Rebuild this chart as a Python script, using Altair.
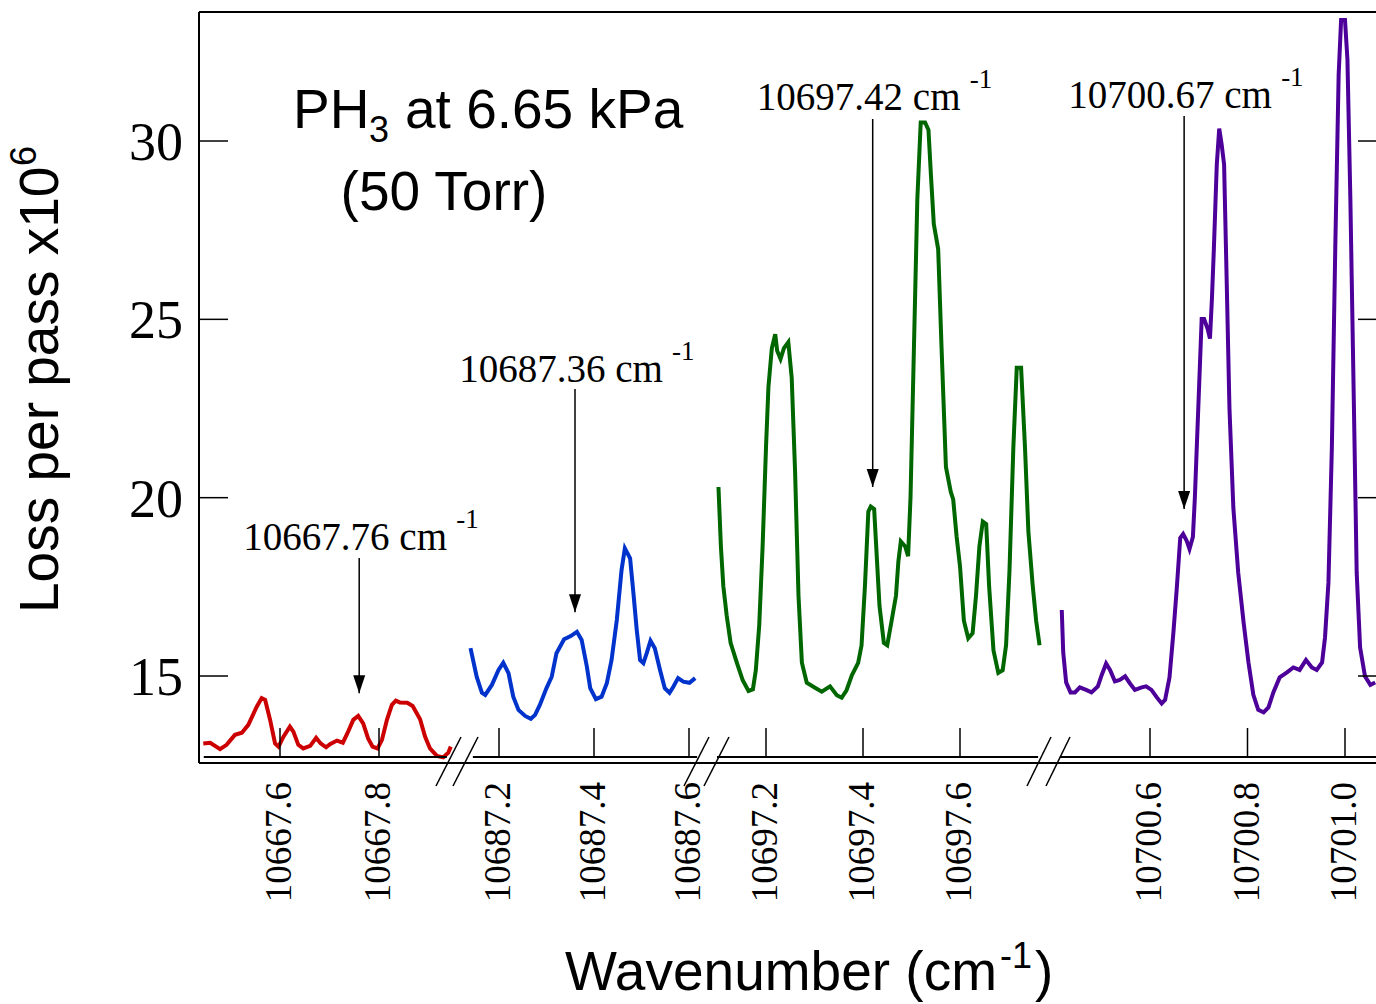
import altair as alt
import pandas as pd

# ---------------- data ----------------
red_wn = [10667.445, 10667.459, 10667.479, 10667.492, 10667.509, 10667.523, 10667.536, 10667.553,
          10667.563, 10667.570, 10667.580, 10667.590, 10667.597, 10667.607, 10667.620, 10667.627,
          10667.637, 10667.647, 10667.661, 10667.673, 10667.682, 10667.693, 10667.701, 10667.715,
          10667.727, 10667.736, 10667.748, 10667.758, 10667.768, 10667.778, 10667.787, 10667.797,
          10667.806, 10667.816, 10667.826, 10667.834, 10667.842, 10667.857, 10667.868, 10667.883,
          10667.893, 10667.903, 10667.917, 10667.930, 10667.940, 10667.945]
red_loss = [13.11, 13.13, 12.95, 13.07, 13.35, 13.41, 13.63, 14.14, 14.38, 14.33, 13.77, 13.11,
            13.02, 13.30, 13.58, 13.44, 13.07, 12.97, 13.04, 13.27, 13.11, 13.00, 13.09, 13.19,
            13.13, 13.39, 13.77, 13.88, 13.67, 13.25, 13.02, 12.97, 13.21, 13.77, 14.19, 14.31,
            14.26, 14.25, 14.16, 13.79, 13.30, 12.97, 12.76, 12.72, 12.85, 13.02]

blue_wn = [10687.140, 10687.153, 10687.164, 10687.171, 10687.185, 10687.199, 10687.209, 10687.220,
           10687.230, 10687.241, 10687.255, 10687.267, 10687.276, 10687.286, 10687.300, 10687.311,
           10687.321, 10687.337, 10687.351, 10687.364, 10687.374, 10687.385, 10687.392, 10687.404,
           10687.416, 10687.427, 10687.437, 10687.448, 10687.458, 10687.465, 10687.476, 10687.483,
           10687.490, 10687.497, 10687.504, 10687.511, 10687.519, 10687.528, 10687.539, 10687.549,
           10687.559, 10687.567, 10687.577, 10687.588, 10687.601, 10687.613]
blue_loss = [15.78, 14.98, 14.53, 14.47, 14.75, 15.17, 15.37, 15.08, 14.42, 14.05, 13.88, 13.80,
             13.91, 14.19, 14.66, 14.98, 15.64, 16.03, 16.12, 16.24, 16.01, 15.26, 14.66, 14.35,
             14.42, 14.80, 15.45, 16.57, 17.97, 18.58, 18.30, 17.32, 16.29, 15.45, 15.36, 15.64,
             15.99, 15.78, 15.17, 14.66, 14.53, 14.70, 14.94, 14.84, 14.81, 14.94]

green_wn = [10697.102, 10697.107, 10697.112, 10697.119, 10697.127, 10697.140, 10697.152, 10697.164,
            10697.173, 10697.179, 10697.186, 10697.193, 10697.200, 10697.205, 10697.212, 10697.219,
            10697.223, 10697.230, 10697.237, 10697.246, 10697.253, 10697.260, 10697.267, 10697.274,
            10697.284, 10697.301, 10697.315, 10697.332, 10697.346, 10697.356, 10697.366, 10697.377,
            10697.390, 10697.397, 10697.404, 10697.411, 10697.416, 10697.423, 10697.434, 10697.443,
            10697.450, 10697.459, 10697.468, 10697.473, 10697.478, 10697.487, 10697.493, 10697.498,
            10697.505, 10697.512, 10697.519, 10697.528, 10697.535, 10697.540, 10697.546, 10697.555,
            10697.562, 10697.571, 10697.581, 10697.586, 10697.593, 10697.600, 10697.608, 10697.617,
            10697.626, 10697.633, 10697.640, 10697.647, 10697.654, 10697.660, 10697.669, 10697.679,
            10697.688, 10697.695, 10697.702, 10697.710, 10697.717, 10697.726, 10697.734, 10697.741,
            10697.750, 10697.757, 10697.764]
green_loss = [20.30, 18.63, 17.52, 16.69, 15.93, 15.37, 14.88, 14.58, 14.63, 15.16,
              16.41, 18.63, 21.41, 23.10, 24.19, 24.58, 24.12, 23.89, 24.19, 24.36,
              23.36, 20.72, 17.25, 15.37, 14.81, 14.67, 14.56, 14.71, 14.46, 14.39,
              14.60, 15.02, 15.37, 15.86, 17.52, 19.61, 19.75, 19.68, 16.97, 15.93,
              15.86, 16.55, 17.25, 18.22, 18.77, 18.63, 18.36, 20.02, 24.19, 28.36,
              30.52, 30.52, 30.31, 29.06, 27.67, 26.97, 24.19, 20.86, 20.16, 19.95,
              18.91, 18.08, 16.55, 16.06, 16.20, 17.25, 18.63, 19.33, 19.26, 17.52,
              15.72, 15.09, 15.16, 15.86, 17.94, 21.41, 23.64, 23.64, 21.41, 19.05,
              17.52, 16.55, 15.86]

purple_wn = [10700.419, 10700.422, 10700.428, 10700.437, 10700.446, 10700.456, 10700.469, 10700.480,
             10700.493, 10700.501, 10700.510, 10700.518, 10700.528, 10700.538, 10700.549, 10700.559,
             10700.569, 10700.583, 10700.592, 10700.603, 10700.614, 10700.624, 10700.631, 10700.640,
             10700.648, 10700.655, 10700.662, 10700.668, 10700.675, 10700.681, 10700.688, 10700.692,
             10700.699, 10700.706, 10700.711, 10700.718, 10700.723, 10700.727, 10700.731, 10700.737,
             10700.742, 10700.747, 10700.752, 10700.757, 10700.763, 10700.771, 10700.781, 10700.792,
             10700.802, 10700.812, 10700.822, 10700.833, 10700.843, 10700.853, 10700.866, 10700.881,
             10700.894, 10700.907, 10700.920, 10700.932, 10700.942, 10700.953, 10700.959, 10700.966,
             10700.973, 10700.980, 10700.987, 10700.992, 10701.000, 10701.005, 10701.011, 10701.018,
             10701.024, 10701.031, 10701.041, 10701.052, 10701.062]
purple_loss = [16.85, 15.66, 14.82, 14.54, 14.54, 14.68, 14.61, 14.54, 14.71, 15.03,
               15.35, 15.17, 14.85, 14.89, 14.99, 14.79, 14.61, 14.68, 14.71, 14.61,
               14.40, 14.23, 14.33, 14.96, 16.22, 17.47, 18.87, 18.98, 18.80, 18.56,
               18.90, 19.99, 22.50, 25.01, 25.01, 24.74, 24.46, 25.57, 26.97, 29.34,
               30.35, 29.90, 29.34, 26.27, 22.50, 19.71, 17.89, 16.50, 15.38, 14.47,
               14.05, 13.98, 14.12, 14.54, 14.96, 15.10, 15.24, 15.17, 15.45, 15.24,
               15.17, 15.38, 16.08, 17.61, 21.38, 26.97, 31.86, 33.39, 33.39, 32.28,
               28.37, 22.78, 17.89, 15.80, 14.99, 14.75, 14.82]

seg_names = ["s1", "s2", "s3", "s4"]
seg_ticks = [[10667.6, 10667.8], [10687.2, 10687.4, 10687.6],
             [10697.2, 10697.4, 10697.6], [10700.6, 10700.8, 10701.0]]
seg_lo = [10667.446, 10687.145, 10697.099, 10700.415]
seg_hi = [10667.937, 10687.617, 10697.761, 10701.064]

ann_wn = [10667.76, 10687.36, 10697.42, 10700.67]
ann_seg = [0, 1, 2, 3]
ann_text = ["10667.76 cm", "10687.36 cm", "10697.42 cm", "10700.67 cm"]
ann_label_y = [18.53, 23.24, 30.87, 30.92]
ann_top = [18.31, 23.05, 30.62, 30.70]
ann_tip = [14.52, 16.79, 20.30, 19.68]

y_ticks = [15, 20, 25, 30]

# ---------------- broken-axis layout ----------------
W, H = 1177, 751
Y_DOMAIN = [12.561, 33.617]
SEG_ANCHOR = [10667.6, 10687.2, 10697.2, 10700.6]   # wavenumber anchoring each panel
SEG_PX = [81.0, 300.0, 567.0, 951.0]                # where that anchor sits on the broken axis
SEG_SCALE = [495.0, 475.0, 485.0, 487.5]            # px per cm-1 in each panel
SEG_COLOR = ["#CC0000", "#0033CC", "#006600", "#4D0099"]


def broken_x(wn, seg):
    return round(SEG_PX[seg] + (wn - SEG_ANCHOR[seg]) * SEG_SCALE[seg], 3)


rows = []
for k, (wns, vals) in enumerate([(red_wn, red_loss), (blue_wn, blue_loss),
                                  (green_wn, green_loss), (purple_wn, purple_loss)]):
    for w, v in zip(wns, vals):
        rows.append({"seg": seg_names[k], "wn": w, "v": v, "xp": broken_x(w, k)})
lines_df = pd.DataFrame(rows)

tick_xp, tick_lab = [], []
for k, ts in enumerate(seg_ticks):
    for t in ts:
        tick_xp.append(broken_x(t, k))
        tick_lab.append(f"{t:.1f}")
ticks_df = pd.DataFrame({"xp": tick_xp, "lab": tick_lab})

segs_df = pd.DataFrame({"x1": [broken_x(a, k) for k, a in enumerate(seg_lo)],
                        "x2": [broken_x(b, k) for k, b in enumerate(seg_hi)]})

ann_df = pd.DataFrame({"xp": [broken_x(w, s) for w, s in zip(ann_wn, ann_seg)],
                       "text": ann_text, "ly": ann_label_y, "top": ann_top, "tip": ann_tip})
yt_df = pd.DataFrame({"v": y_ticks, "lab": [str(t) for t in y_ticks]})

XS = alt.Scale(domain=[0, W], nice=False, zero=False)
YS = alt.Scale(domain=Y_DOMAIN, nice=False, zero=False)


def X(field):
    return alt.X(field, scale=XS, axis=None)


def Y(field):
    return alt.Y(field, scale=YS, axis=None)


lines = alt.Chart(lines_df).mark_line(strokeWidth=4, clip=True).encode(
    x=X("xp:Q"), y=Y("v:Q"),
    color=alt.Color("seg:N", scale=alt.Scale(domain=seg_names, range=SEG_COLOR), legend=None),
)

one = pd.DataFrame({"a": [0]})


def rule(x, x2, y, y2, w=2):
    return alt.Chart(one).mark_rule(color="black", strokeWidth=w).encode(
        x=alt.value(x), x2=alt.value(x2), y=alt.value(y), y2=alt.value(y2))


# frame (left, top, bottom)
frame = [rule(0, 0, 0, H), rule(0, W, 0, 0), rule(0, W, H, H)]

seg_lines = alt.Chart(segs_df).mark_rule(color="black", strokeWidth=2).encode(
    x=X("x1:Q"), x2="x2:Q", y=alt.value(745))

x_ticks = alt.Chart(ticks_df).mark_rule(color="black", strokeWidth=1.5).encode(
    x=X("xp:Q"), y=alt.value(716), y2=alt.value(745))
x_labels = alt.Chart(ticks_df).mark_text(angle=270, align="right", baseline="middle",
                                         font="Liberation Serif", fontSize=37, color="black").encode(
    x=X("xp:Q"), y=alt.value(H + 19), text="lab:N")

y_ticks_left = alt.Chart(yt_df).mark_rule(color="black", strokeWidth=1.5).encode(
    y=Y("v:Q"), x=alt.value(0), x2=alt.value(29))
y_ticks_right = alt.Chart(yt_df).mark_rule(color="black", strokeWidth=1.5).encode(
    y=Y("v:Q"), x=alt.value(W - 18), x2=alt.value(W))
y_labels = alt.Chart(yt_df).mark_text(align="right", baseline="middle", dy=3,
                                      font="Liberation Serif", fontSize=54, color="black").encode(
    y=Y("v:Q"), x=alt.value(-16), text="lab:N")

arrows = alt.Chart(ann_df).mark_rule(color="black", strokeWidth=1.5).encode(
    x=X("xp:Q"), y=Y("top:Q"), y2="tip:Q")
heads = alt.Chart(ann_df).mark_point(shape="M-0.67,-2L0.67,-2L0,0Z", size=324, filled=True,
                                     color="black", opacity=1, strokeWidth=0).encode(
    x=X("xp:Q"), y=Y("tip:Q"))
ann_main = alt.Chart(ann_df).mark_text(align="center", baseline="alphabetic", dx=-14,
                                       font="Liberation Serif", fontSize=39, color="black").encode(
    x=X("xp:Q"), y=Y("ly:Q"), text="text:N")
ann_sup = alt.Chart(ann_df).mark_text(text="-1", align="left", baseline="alphabetic", dx=97, dy=-22,
                                      font="Liberation Serif", fontSize=27, color="black").encode(
    x=X("xp:Q"), y=Y("ly:Q"))


def label(txt, px, py, size, align="left", angle=0):
    return alt.Chart(one).mark_text(text=txt, align=align, baseline="alphabetic", angle=angle,
                                    font="Liberation Sans", fontSize=size, color="black").encode(
        x=alt.value(px), y=alt.value(py))


text_layers = [
    # in-plot label
    label("PH", 94, 116, 55), label("3", 170, 130, 36),
    label("at 6.65 kPa", 206, 116, 55), label("(50 Torr)", 245, 198, 55, "center"),
    # x-axis title with raised "-1"
    label("Wavenumber (cm", 366, 978, 55), label("-1", 801, 956, 36), label(")", 836, 978, 55),
    # y-axis title with raised "6"
    label("Loss per pass x10", -141, 601, 55, "left", 270), label("6", -163, 154, 36, "left", 270),
]

# axis-break slashes
breaks = [rule(xa, xb, 774, 725, 1.5)
          for (xa, xb) in [(237, 262), (254, 279), (485, 510), (505, 530), (828, 852), (847, 871)]]

chart = alt.layer(lines, *frame, seg_lines, x_ticks, x_labels, y_ticks_left, y_ticks_right,
                  y_labels, arrows, heads, ann_main, ann_sup, *text_layers, *breaks).properties(
    width=W, height=H,
    autosize=alt.AutoSizeParams(type="none"),
    padding={"left": 199, "top": 12, "right": 0, "bottom": 241},
    background="white",
).configure_view(stroke=None)

chart.save("out.html", embed_options={"renderer": "svg", "actions": False})
